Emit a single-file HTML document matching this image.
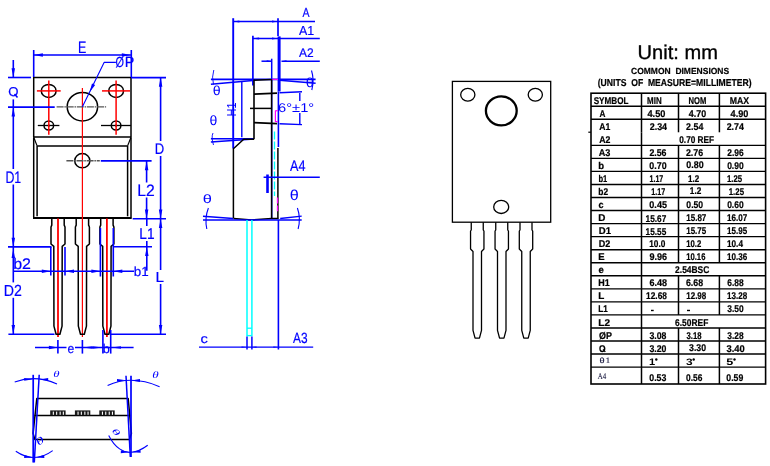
<!DOCTYPE html>
<html><head><meta charset="utf-8"><style>
html,body{margin:0;padding:0;background:#fff;width:770px;height:466px;overflow:hidden}
svg{display:block;will-change:transform} text{text-rendering:geometricPrecision}
</style></head><body>
<svg width="770" height="466" viewBox="0 0 770 466">
<polyline points="33.7,137.5 33.7,77.6 131,77.6 131,137.5" stroke="#000000" stroke-width="1.5" fill="none" stroke-linejoin="round"/>
<line x1="33.7" y1="137.5" x2="33.7" y2="217.5" stroke="#000000" stroke-width="1.5" />
<line x1="131" y1="137.5" x2="131" y2="217.5" stroke="#000000" stroke-width="1.5" />
<line x1="33.7" y1="137.1" x2="131" y2="137.1" stroke="#000000" stroke-width="1.5" />
<line x1="37.1" y1="145.9" x2="127.6" y2="145.9" stroke="#000000" stroke-width="1.5" />
<line x1="33.7" y1="137.3" x2="37.1" y2="145.9" stroke="#000000" stroke-width="1.2" />
<line x1="131" y1="137.3" x2="127.6" y2="145.9" stroke="#000000" stroke-width="1.2" />
<line x1="37.1" y1="145.9" x2="37.1" y2="216.3" stroke="#000000" stroke-width="1.5" />
<line x1="127.6" y1="145.9" x2="127.6" y2="216.3" stroke="#000000" stroke-width="1.5" />
<line x1="33" y1="218" x2="131.7" y2="218" stroke="#000000" stroke-width="2.2" />
<ellipse cx="48.7" cy="90.9" rx="7.4" ry="6.5" stroke="#000000" stroke-width="1.5" fill="none"/>
<ellipse cx="116.1" cy="90.9" rx="7.4" ry="6.5" stroke="#000000" stroke-width="1.5" fill="none"/>
<ellipse cx="48.8" cy="125.6" rx="4.8" ry="4.5" stroke="#000000" stroke-width="1.5" fill="none"/>
<ellipse cx="116.1" cy="125.6" rx="4.8" ry="4.5" stroke="#000000" stroke-width="1.5" fill="none"/>
<circle cx="48.8" cy="125.6" r="1.2" fill="#000"/><circle cx="116.1" cy="125.6" r="1.2" fill="#000"/>
<line x1="37.8" y1="125.5" x2="59.4" y2="125.5" stroke="#000000" stroke-width="1.3" />
<line x1="101" y1="125.5" x2="131" y2="125.5" stroke="#000000" stroke-width="1.3" />
<ellipse cx="82.4" cy="106.7" rx="15.2" ry="14.3" stroke="#000000" stroke-width="1.5" fill="none"/>
<ellipse cx="82.3" cy="160.7" rx="7.6" ry="7.1" stroke="#000000" stroke-width="1.5" fill="none"/>
<line x1="82.4" y1="88.1" x2="82.4" y2="336.9" stroke="#ff0000" stroke-width="1.2" />
<line x1="36.9" y1="90.9" x2="60.7" y2="90.9" stroke="#ff0000" stroke-width="1.5" />
<line x1="48.8" y1="80.6" x2="48.8" y2="134.8" stroke="#ff0000" stroke-width="1.5" />
<line x1="102" y1="90.9" x2="130" y2="90.9" stroke="#ff0000" stroke-width="1.5" />
<line x1="116.1" y1="80.6" x2="116.1" y2="134.8" stroke="#ff0000" stroke-width="1.5" />
<line x1="58.0" y1="218.5" x2="58.0" y2="336.9" stroke="#ff0000" stroke-width="1.8" />
<line x1="106.9" y1="218.5" x2="106.9" y2="336.9" stroke="#ff0000" stroke-width="1.8" />
<line x1="56.6" y1="106.9" x2="106.1" y2="106.9" stroke="#555" stroke-width="1.4" stroke-dasharray="7,0.8,1.5,0.8"/>
<line x1="66.4" y1="160.7" x2="99.8" y2="160.7" stroke="#555" stroke-width="1.4" stroke-dasharray="7,0.8,1.5,0.8"/>
<polyline points="51.8,218 51.8,225.1 51.0,227 51.0,244 53.8,246.3 53.95,326.1 56.1,334.2 59.9,334.2 62.05,326.1 62.2,246.3 65.0,244 65.0,227 64.2,225.1 64.2,218" stroke="#000000" stroke-width="1.5" fill="none" stroke-linejoin="round"/>
<polyline points="76.2,218 76.2,225.1 75.4,227 75.4,244 78.2,246.3 78.35000000000001,326.1 80.5,334.2 84.30000000000001,334.2 86.45,326.1 86.60000000000001,246.3 89.4,244 89.4,227 88.60000000000001,225.1 88.60000000000001,218" stroke="#000000" stroke-width="1.5" fill="none" stroke-linejoin="round"/>
<polyline points="100.7,218 100.7,225.1 99.9,227 99.9,244 102.7,246.3 102.85000000000001,326.1 105.0,334.2 108.80000000000001,334.2 110.95,326.1 111.10000000000001,246.3 113.9,244 113.9,227 113.10000000000001,225.1 113.10000000000001,218" stroke="#000000" stroke-width="1.5" fill="none" stroke-linejoin="round"/>
<line x1="33.7" y1="50" x2="33.7" y2="77" stroke="#0000ff" stroke-width="1.6" />
<line x1="131.3" y1="50" x2="131.3" y2="77" stroke="#0000ff" stroke-width="1.6" />
<line x1="33.7" y1="54.9" x2="131" y2="54.9" stroke="#0000ff" stroke-width="1.5" />
<polygon points="33.9,54.9 42.90,53.15 42.90,56.65" fill="#0000ff"/>
<polygon points="130.8,54.9 121.80,56.65 121.80,53.15" fill="#0000ff"/>
<text transform="translate(78.10,52.80) scale(0.7486,1)" font-family="Liberation Sans" font-size="16.67" font-weight="normal" fill="#0000ff" stroke="#0000ff" stroke-width="0.2">E</text>
<polyline points="82.4,106.7 104.1,62.4 115.9,62.4" stroke="#0000ff" stroke-width="1.1" fill="none" stroke-linejoin="round"/>
<polygon points="89.6,92.3 91.99,83.45 95.13,84.99" fill="#0000ff"/>
<text transform="translate(115.52,67.43) scale(0.7465,1)" font-family="Liberation Sans" font-size="14.63" font-weight="normal" fill="#0000ff" stroke="#0000ff" stroke-width="0.2">Ø</text>
<text transform="translate(124.75,67.40) scale(0.9736,1)" font-family="Liberation Sans" font-size="14.78" font-weight="normal" fill="#0000ff" stroke="#0000ff" stroke-width="0.2">P</text>
<line x1="13.3" y1="60" x2="13.3" y2="77.5" stroke="#0000ff" stroke-width="1.6" />
<polygon points="13.3,77.2 11.55,68.20 15.05,68.20" fill="#0000ff"/>
<line x1="8" y1="77.5" x2="31" y2="77.5" stroke="#0000ff" stroke-width="1.6" />
<text transform="translate(8.21,96.17) scale(1.0251,1)" font-family="Liberation Sans" font-size="12.82" font-weight="normal" fill="#0000ff" stroke="#0000ff" stroke-width="0.2">O</text>
<line x1="14.5" y1="94" x2="17.5" y2="97.5" stroke="#0000ff" stroke-width="1.6" />
<line x1="13.3" y1="99.4" x2="13.3" y2="107" stroke="#0000ff" stroke-width="1.6" />
<line x1="8" y1="107.1" x2="54.7" y2="107.1" stroke="#0000ff" stroke-width="1.7" />
<polygon points="13.3,107.4 15.05,116.40 11.55,116.40" fill="#0000ff"/>
<line x1="13.3" y1="107" x2="13.3" y2="169" stroke="#0000ff" stroke-width="1.6" />
<text transform="translate(5.41,182.70) scale(0.7409,1)" font-family="Liberation Sans" font-size="16.67" font-weight="normal" fill="#0000ff" stroke="#0000ff" stroke-width="0.2">D1</text>
<line x1="13.3" y1="184.5" x2="13.3" y2="282.4" stroke="#0000ff" stroke-width="1.6" />
<polygon points="13.3,246.7 11.55,237.70 15.05,237.70" fill="#0000ff"/>
<line x1="8" y1="246.9" x2="51.5" y2="246.9" stroke="#0000ff" stroke-width="1.6" />
<polygon points="13.3,249 15.05,258.00 11.55,258.00" fill="#0000ff"/>
<text transform="translate(13.16,268.75) scale(1.0487,1)" font-family="Liberation Sans" font-size="15.24" font-weight="normal" fill="#0000ff" stroke="#0000ff" stroke-width="0.2">b2</text>
<text transform="translate(3.87,296.00) scale(0.8843,1)" font-family="Liberation Sans" font-size="16.00" font-weight="normal" fill="#0000ff" stroke="#0000ff" stroke-width="0.2">D2</text>
<line x1="13.3" y1="297.8" x2="13.3" y2="334.3" stroke="#0000ff" stroke-width="1.6" />
<polygon points="13.3,334.1 11.55,325.10 15.05,325.10" fill="#0000ff"/>
<line x1="8.4" y1="334.3" x2="54.5" y2="334.3" stroke="#0000ff" stroke-width="1.6" />
<line x1="111" y1="334.3" x2="166" y2="334.3" stroke="#0000ff" stroke-width="1.6" />
<line x1="50.8" y1="247" x2="50.8" y2="275.5" stroke="#0000ff" stroke-width="1.6" />
<line x1="65" y1="247" x2="65" y2="275.5" stroke="#0000ff" stroke-width="1.6" />
<line x1="100.4" y1="228" x2="100.4" y2="276.5" stroke="#0000ff" stroke-width="1.6" />
<line x1="113.3" y1="228" x2="113.3" y2="276.5" stroke="#0000ff" stroke-width="1.6" />
<line x1="113.7" y1="246.8" x2="152" y2="246.8" stroke="#0000ff" stroke-width="1.6" />
<line x1="13.3" y1="271.2" x2="134" y2="271.2" stroke="#0000ff" stroke-width="1.5" />
<polygon points="50.8,271.2 41.80,272.95 41.80,269.45" fill="#0000ff"/>
<polygon points="65,271.2 74.00,269.45 74.00,272.95" fill="#0000ff"/>
<polygon points="100.4,271.2 91.40,272.95 91.40,269.45" fill="#0000ff"/>
<polygon points="113.3,271.2 122.30,269.45 122.30,272.95" fill="#0000ff"/>
<text transform="translate(133.73,275.57) scale(1.0154,1)" font-family="Liberation Sans" font-size="13.20" font-weight="normal" fill="#0000ff" stroke="#0000ff" stroke-width="0.2">b1</text>
<line x1="100.8" y1="160.9" x2="151.6" y2="160.9" stroke="#0000ff" stroke-width="1.6" />
<line x1="146.6" y1="161" x2="146.6" y2="182.5" stroke="#0000ff" stroke-width="1.6" />
<line x1="146.6" y1="197.5" x2="146.6" y2="218.5" stroke="#0000ff" stroke-width="1.6" />
<polygon points="146.6,161.2 148.35,170.20 144.85,170.20" fill="#0000ff"/>
<polygon points="146.6,218.4 144.85,209.40 148.35,209.40" fill="#0000ff"/>
<text transform="translate(137.24,196.00) scale(0.9483,1)" font-family="Liberation Sans" font-size="16.57" font-weight="normal" fill="#0000ff" stroke="#0000ff" stroke-width="0.2">L2</text>
<line x1="131" y1="77.6" x2="166" y2="77.6" stroke="#0000ff" stroke-width="1.6" />
<line x1="160.6" y1="77.8" x2="160.6" y2="141" stroke="#0000ff" stroke-width="1.6" />
<line x1="160.6" y1="156" x2="160.6" y2="270" stroke="#0000ff" stroke-width="1.6" />
<line x1="160.6" y1="284" x2="160.6" y2="334.3" stroke="#0000ff" stroke-width="1.6" />
<polygon points="160.6,77.8 162.35,86.80 158.85,86.80" fill="#0000ff"/>
<polygon points="160.6,218.4 158.85,209.40 162.35,209.40" fill="#0000ff"/>
<text transform="translate(154.75,153.50) scale(0.8533,1)" font-family="Liberation Sans" font-size="15.36" font-weight="normal" fill="#0000ff" stroke="#0000ff" stroke-width="0.2">D</text>
<line x1="132.7" y1="218.8" x2="166" y2="218.8" stroke="#0000ff" stroke-width="1.6" />
<line x1="146.8" y1="219" x2="146.8" y2="226" stroke="#0000ff" stroke-width="1.6" />
<line x1="146.8" y1="241" x2="146.8" y2="270.7" stroke="#0000ff" stroke-width="1.6" />
<polygon points="146.8,246.9 148.55,255.90 145.05,255.90" fill="#0000ff"/>
<text transform="translate(139.30,239.00) scale(0.8838,1)" font-family="Liberation Sans" font-size="15.51" font-weight="normal" fill="#0000ff" stroke="#0000ff" stroke-width="0.2">L1</text>
<polygon points="160.6,219.1 162.35,228.10 158.85,228.10" fill="#0000ff"/>
<polygon points="160.6,334.1 158.85,325.10 162.35,325.10" fill="#0000ff"/>
<text transform="translate(155.58,281.80) scale(1.0544,1)" font-family="Liberation Sans" font-size="14.49" font-weight="normal" fill="#0000ff" stroke="#0000ff" stroke-width="0.2">L</text>
<line x1="35" y1="347.5" x2="66.5" y2="347.5" stroke="#0000ff" stroke-width="1.5" />
<line x1="75" y1="347.5" x2="133.6" y2="347.5" stroke="#0000ff" stroke-width="1.5" />
<line x1="57.9" y1="340" x2="57.9" y2="353.6" stroke="#0000ff" stroke-width="1.6" />
<line x1="82.4" y1="340" x2="82.4" y2="353.6" stroke="#0000ff" stroke-width="1.6" />
<line x1="102.9" y1="330" x2="102.9" y2="353.6" stroke="#0000ff" stroke-width="1.6" />
<line x1="110.7" y1="330" x2="110.7" y2="353.6" stroke="#0000ff" stroke-width="1.6" />
<polygon points="57.9,347.5 48.90,349.25 48.90,345.75" fill="#0000ff"/>
<polygon points="82.5,347.5 92.50,346.20 92.50,348.80" fill="#0000ff"/>
<polygon points="102.5,347.5 92.50,348.80 92.50,346.20" fill="#0000ff"/>
<polygon points="111,347.5 121.00,346.20 121.00,348.80" fill="#0000ff"/>
<text transform="translate(67.41,352.77) scale(0.9264,1)" font-family="Liberation Sans" font-size="13.09" font-weight="normal" fill="#0000ff" stroke="#0000ff" stroke-width="0.2">e</text>
<text transform="translate(102.78,352.77) scale(1.0011,1)" font-family="Liberation Sans" font-size="12.65" font-weight="normal" fill="#0000ff" stroke="#0000ff" stroke-width="0.2">b</text>
<polygon points="36.8,398.5 128.2,398.5 131.4,433.4 129.4,439.6 34.9,439.6 33.1,433.4" stroke="#000000" stroke-width="1.5" fill="none" stroke-linejoin="round"/>
<line x1="34.4" y1="415.4" x2="130.3" y2="415.4" stroke="#000000" stroke-width="1.5" />
<rect x="50.2" y="410.4" width="15.4" height="5" fill="#1a1a1a"/>
<rect x="52.800000000000004" y="411.6" width="1.1" height="3.2" fill="#fff"/>
<rect x="56.1" y="411.6" width="1.1" height="3.2" fill="#fff"/>
<rect x="59.6" y="411.6" width="1.1" height="3.2" fill="#fff"/>
<rect x="62.800000000000004" y="411.6" width="1.1" height="3.2" fill="#fff"/>
<rect x="74.9" y="410.4" width="15.4" height="5" fill="#1a1a1a"/>
<rect x="77.5" y="411.6" width="1.1" height="3.2" fill="#fff"/>
<rect x="80.80000000000001" y="411.6" width="1.1" height="3.2" fill="#fff"/>
<rect x="84.30000000000001" y="411.6" width="1.1" height="3.2" fill="#fff"/>
<rect x="87.5" y="411.6" width="1.1" height="3.2" fill="#fff"/>
<rect x="99.3" y="410.4" width="15.4" height="5" fill="#1a1a1a"/>
<rect x="101.89999999999999" y="411.6" width="1.1" height="3.2" fill="#fff"/>
<rect x="105.2" y="411.6" width="1.1" height="3.2" fill="#fff"/>
<rect x="108.7" y="411.6" width="1.1" height="3.2" fill="#fff"/>
<rect x="111.89999999999999" y="411.6" width="1.1" height="3.2" fill="#fff"/>
<line x1="33.2" y1="374.8" x2="33.2" y2="462.5" stroke="#0000ff" stroke-width="1.7" />
<line x1="39.2" y1="374.8" x2="34.3" y2="462.5" stroke="#0000ff" stroke-width="1.5" />
<line x1="131" y1="375.8" x2="131" y2="457" stroke="#0000ff" stroke-width="1.7" />
<line x1="126" y1="375.8" x2="130.3" y2="457" stroke="#0000ff" stroke-width="1.5" />
<path d="M14.7,381.9 Q36,374.5 57,384" stroke="#0000ff" stroke-width="1.1" fill="none" />
<polygon points="33.2,379.3 24.20,380.70 24.20,377.90" fill="#0000ff"/>
<polygon points="39.2,379.5 48.20,378.10 48.20,380.90" fill="#0000ff"/>
<path d="M107.6,385.6 Q131,374.5 159.6,386.7" stroke="#0000ff" stroke-width="1.1" fill="none" />
<polygon points="126,380.3 117.00,381.70 117.00,378.90" fill="#0000ff"/>
<polygon points="131,380.5 140.00,379.10 140.00,381.90" fill="#0000ff"/>
<path d="M15.8,451.2 Q34.5,464 52.7,450.6" stroke="#0000ff" stroke-width="1.1" fill="none" />
<polygon points="33.2,457.4 24.11,457.90 24.38,455.11" fill="#0000ff"/>
<polygon points="35.3,457.4 44.12,455.11 44.39,457.90" fill="#0000ff"/>
<path d="M108.7,435.4 C115,448 124,453 131,452.3 C138,451.5 144,448 147.7,445.2" stroke="#0000ff" stroke-width="1.1" fill="none" />
<polygon points="129.8,452.2 120.74,453.15 120.88,450.35" fill="#0000ff"/>
<polygon points="131.6,452.2 140.42,449.91 140.69,452.70" fill="#0000ff"/>
<text transform="translate(53.16,376.81) scale(1.4044,1)" font-family="Liberation Serif" font-size="9.15" font-weight="normal" font-style="italic" fill="#0000ff">θ</text>
<text transform="translate(152.35,378.30) scale(1.3475,1)" font-family="Liberation Serif" font-size="9.72" font-weight="normal" font-style="italic" fill="#0000ff">θ</text>
<text transform="rotate(-40 40 440.8) translate(35.79,444.20) scale(1.6422,1)" font-family="Liberation Serif" font-size="9.86" font-weight="normal" font-style="italic" fill="#0000ff">θ</text>
<text transform="rotate(50 116.4 432.2) translate(112.44,435.12) scale(1.8032,1)" font-family="Liberation Serif" font-size="8.45" font-weight="normal" font-style="italic" fill="#0000ff">θ</text>
<line x1="233.2" y1="18.2" x2="233.2" y2="148.5" stroke="#0000ff" stroke-width="1.9" />
<line x1="278" y1="18.2" x2="278" y2="36" stroke="#0000ff" stroke-width="1.7" />
<line x1="233.2" y1="21.5" x2="315" y2="21.5" stroke="#0000ff" stroke-width="1.5" />
<polygon points="233.4,21.5 239.40,20.50 239.40,22.50" fill="#0000ff"/>
<polygon points="278,21.5 272.00,22.50 272.00,20.50" fill="#0000ff"/>
<text transform="translate(302.40,16.90) scale(0.7981,1)" font-family="Liberation Sans" font-size="13.19" font-weight="normal" fill="#0000ff" stroke="#0000ff" stroke-width="0.2">A</text>
<line x1="252.9" y1="35.7" x2="252.9" y2="85.6" stroke="#0000ff" stroke-width="1.7" />
<line x1="252.9" y1="38.5" x2="319.8" y2="38.5" stroke="#0000ff" stroke-width="1.5" />
<polygon points="253.1,38.5 259.10,37.50 259.10,39.50" fill="#0000ff"/>
<polygon points="278,38.5 272.00,39.50 272.00,37.50" fill="#0000ff"/>
<text transform="translate(299.00,35.00) scale(0.9526,1)" font-family="Liberation Sans" font-size="13.04" font-weight="normal" fill="#0000ff" stroke="#0000ff" stroke-width="0.2">A1</text>
<line x1="279.1" y1="36.4" x2="279.1" y2="91.5" stroke="#0000ff" stroke-width="3.0" />
<line x1="278.4" y1="91.5" x2="278.4" y2="147" stroke="#0000ff" stroke-width="1.6" />
<line x1="278.4" y1="220" x2="278.4" y2="349.5" stroke="#0000ff" stroke-width="1.6" />
<line x1="281.5" y1="61.2" x2="319.8" y2="61.2" stroke="#0000ff" stroke-width="1.5" />
<polygon points="281.5,61.2 286.50,60.30 286.50,62.10" fill="#0000ff"/>
<line x1="261.5" y1="61.2" x2="271.7" y2="61.2" stroke="#0000ff" stroke-width="1.5" />
<polygon points="271.7,61.2 266.70,62.10 266.70,60.30" fill="#0000ff"/>
<line x1="271.7" y1="58.7" x2="271.7" y2="218.6" stroke="#0000ff" stroke-width="1.5" />
<text transform="translate(299.00,56.90) scale(0.9628,1)" font-family="Liberation Sans" font-size="12.43" font-weight="normal" fill="#0000ff" stroke="#0000ff" stroke-width="0.2">A2</text>
<line x1="210.9" y1="79.4" x2="315.6" y2="79.4" stroke="#0000ff" stroke-width="1.6" />
<line x1="210.9" y1="84.3" x2="252.8" y2="80.5" stroke="#0000ff" stroke-width="1.5" />
<line x1="279.5" y1="80.3" x2="315.6" y2="83.3" stroke="#0000ff" stroke-width="1.5" />
<path d="M213.8,70 Q211.5,77 213.5,84.5" stroke="#0000ff" stroke-width="0.9" fill="none" />
<path d="M311.5,70.5 Q314.5,80 311.8,90" stroke="#0000ff" stroke-width="1.1" fill="none" />
<text transform="translate(212.79,95.17) scale(1.0825,1)" font-family="Liberation Sans" font-size="13.20" font-weight="normal" fill="#0000ff">θ</text>
<text transform="translate(305.86,86.87) scale(1.1158,1)" font-family="Liberation Sans" font-size="13.20" font-weight="normal" fill="#0000ff">θ</text>
<line x1="241.8" y1="81" x2="241.8" y2="137.2" stroke="#0000ff" stroke-width="1.4" />
<g transform="translate(235.8,115.6) rotate(-90)">
<text transform="translate(-0.88,0.00) scale(0.8400,1)" font-family="Liberation Sans" font-size="13.04" font-weight="normal" fill="#0000ff">H1</text>
</g>
<text transform="translate(209.60,124.86) scale(1.0338,1)" font-family="Liberation Sans" font-size="13.61" font-weight="normal" fill="#0000ff">θ</text>
<line x1="210.9" y1="138.8" x2="254" y2="138.8" stroke="#0000ff" stroke-width="1.6" />
<line x1="210.9" y1="142" x2="254" y2="139" stroke="#0000ff" stroke-width="1.5" />
<path d="M213,133 Q211,137 213.5,145" stroke="#0000ff" stroke-width="0.9" fill="none" />
<polyline points="254,80.2 271.6,79.6" stroke="#000000" stroke-width="1.5" fill="none" stroke-linejoin="round"/>
<line x1="271.6" y1="79.4" x2="278" y2="79.4" stroke="#ff00ff" stroke-width="1.2" />
<line x1="254" y1="79.5" x2="254" y2="139.2" stroke="#000000" stroke-width="1.6" />
<line x1="254" y1="94.2" x2="277" y2="93.2" stroke="#000000" stroke-width="1.8" />
<line x1="250" y1="108.4" x2="271.6" y2="108.4" stroke="#000000" stroke-width="1.5" />
<line x1="254" y1="122.6" x2="277" y2="123.6" stroke="#000000" stroke-width="1.8" />
<line x1="271.6" y1="79.2" x2="271.6" y2="218.6" stroke="#000000" stroke-width="1.5" />
<polyline points="254,139.2 243.7,139.2 233.4,148.8 233.4,218.6" stroke="#000000" stroke-width="1.5" fill="none" stroke-linejoin="round"/>
<line x1="277.9" y1="148" x2="277.9" y2="218.6" stroke="#000000" stroke-width="1.5" />
<polyline points="233.6,218.6 251.6,220 271.6,218.6 278.6,218.6" stroke="#000000" stroke-width="1.5" fill="none" stroke-linejoin="round"/>
<polyline points="277.8,110.6 275.4,110.8 275.4,121.4 277.8,121.6" stroke="#ff00ff" stroke-width="1.2" fill="none" stroke-linejoin="round"/>
<line x1="277.5" y1="197.4" x2="277.5" y2="211.3" stroke="#ff00ff" stroke-width="1.3" stroke-dasharray="6,2,6"/>
<line x1="274.5" y1="131.5" x2="274.5" y2="196" stroke="#00ffff" stroke-width="1.3" stroke-dasharray="8,2"/>
<line x1="279.5" y1="92.7" x2="302" y2="91.8" stroke="#0000ff" stroke-width="1.4" />
<line x1="279.5" y1="123.8" x2="302" y2="124.6" stroke="#0000ff" stroke-width="1.4" />
<line x1="299.8" y1="93" x2="299.8" y2="101" stroke="#0000ff" stroke-width="1.4" />
<line x1="299.8" y1="113" x2="299.8" y2="124.6" stroke="#0000ff" stroke-width="1.4" />
<text transform="translate(278.07,111.67) scale(1.1582,1)" font-family="Liberation Sans" font-size="12.68" font-weight="normal" fill="#0000ff">6°±1°</text>
<line x1="263.6" y1="177.2" x2="319.8" y2="177.2" stroke="#0000ff" stroke-width="1.5" />
<line x1="267.5" y1="174.5" x2="267.5" y2="193" stroke="#0000ff" stroke-width="2.6" />
<text transform="translate(290.00,170.60) scale(0.8205,1)" font-family="Liberation Sans" font-size="15.36" font-weight="normal" fill="#0000ff" stroke="#0000ff" stroke-width="0.2">A4</text>
<text transform="translate(202.68,203.48) scale(1.3462,1)" font-family="Liberation Sans" font-size="12.24" font-weight="normal" fill="#0000ff">θ</text>
<text transform="translate(289.79,200.46) scale(1.1277,1)" font-family="Liberation Sans" font-size="14.42" font-weight="normal" fill="#0000ff">θ</text>
<line x1="203" y1="220" x2="301.7" y2="220" stroke="#0000ff" stroke-width="1.5" />
<line x1="203" y1="216.3" x2="233.1" y2="218.5" stroke="#0000ff" stroke-width="1.4" />
<line x1="280.2" y1="218.5" x2="301.7" y2="216.1" stroke="#0000ff" stroke-width="1.4" />
<path d="M208.4,208 Q204.5,218 206.8,229" stroke="#0000ff" stroke-width="1.1" fill="none" />
<path d="M297.4,208 Q301,218 298.1,229" stroke="#0000ff" stroke-width="1.1" fill="none" />
<line x1="247" y1="220" x2="247" y2="336.3" stroke="#00ffff" stroke-width="1.5" />
<line x1="251.9" y1="220" x2="251.9" y2="336.3" stroke="#00ffff" stroke-width="1.5" />
<line x1="247" y1="328.2" x2="251.9" y2="328.2" stroke="#00ffff" stroke-width="1.3" />
<line x1="247" y1="335.6" x2="251.9" y2="335.6" stroke="#00ffff" stroke-width="1.3" />
<line x1="247" y1="336.5" x2="247" y2="349.4" stroke="#0000ff" stroke-width="1.5" />
<line x1="251.9" y1="336.5" x2="251.9" y2="349.4" stroke="#0000ff" stroke-width="1.5" />
<line x1="199" y1="347.1" x2="313.2" y2="347.1" stroke="#0000ff" stroke-width="1.4" />
<polygon points="246.5,347.1 241.50,347.80 241.50,346.40" fill="#0000ff"/>
<polygon points="251.6,347.1 256.60,346.40 256.60,347.80" fill="#0000ff"/>
<polygon points="278.3,347.1 273.30,347.80 273.30,346.40" fill="#0000ff"/>
<text transform="translate(200.41,343.37) scale(1.1560,1)" font-family="Liberation Sans" font-size="12.73" font-weight="normal" fill="#0000ff" stroke="#0000ff" stroke-width="0.2">c</text>
<text transform="translate(293.00,343.35) scale(0.8023,1)" font-family="Liberation Sans" font-size="14.79" font-weight="normal" fill="#0000ff" stroke="#0000ff" stroke-width="0.2">A3</text>
<rect x="452.4" y="81.4" width="98.3" height="140.8" fill="none" stroke="#000" stroke-width="1.3"/>
<ellipse cx="467.8" cy="94.75" rx="7.1" ry="6.4" stroke="#000000" stroke-width="1.3" fill="none"/>
<ellipse cx="535.3" cy="94.75" rx="7.1" ry="6.4" stroke="#000000" stroke-width="1.3" fill="none"/>
<ellipse cx="501.3" cy="110.8" rx="15.4" ry="14.5" stroke="#000000" stroke-width="2.3" fill="none"/>
<ellipse cx="501.2" cy="206.9" rx="7.5" ry="6.6" stroke="#000000" stroke-width="1.3" fill="none"/>
<polyline points="471.25,222.3 471.25,230 470.55,231 470.55,249 473.0,251.5 473.0,330.3 475.05,338.2 479.45,338.2 481.5,330.3 481.5,251.5 483.95,249 483.95,231 483.25,230 483.25,222.3" stroke="#000000" stroke-width="1.3" fill="none" stroke-linejoin="round"/>
<polyline points="495.75,222.3 495.75,230 495.05,231 495.05,249 497.5,251.5 497.5,330.3 499.55,338.2 503.95,338.2 506.0,330.3 506.0,251.5 508.45,249 508.45,231 507.75,230 507.75,222.3" stroke="#000000" stroke-width="1.3" fill="none" stroke-linejoin="round"/>
<polyline points="520,222.3 520,230 519.3,231 519.3,249 521.75,251.5 521.75,330.3 523.8,338.2 528.2,338.2 530.25,330.3 530.25,251.5 532.7,249 532.7,231 532,230 532,222.3" stroke="#000000" stroke-width="1.3" fill="none" stroke-linejoin="round"/>
<text transform="translate(637.59,58.60) scale(1.0108,1)" font-family="Liberation Sans" font-size="19.86" font-weight="normal" fill="#000000" stroke="#000000" stroke-width="0.35">Unit: mm</text>
<text transform="translate(631.06,74.31) scale(0.9581,1)" font-family="Liberation Sans" font-size="8.87" font-weight="bold" fill="#000000" stroke="#000000" stroke-width="0.2">COMMON  DIMENSIONS</text>
<text transform="translate(597.67,85.79) scale(0.8578,1)" font-family="Liberation Sans" font-size="10.05" font-weight="bold" fill="#000000" stroke="#000000" stroke-width="0.2">(UNITS  OF  MEASURE=MILLIMETER)</text>
<rect x="591" y="93.2" width="174.60000000000002" height="290.8" fill="none" stroke="#000" stroke-width="1.6"/>
<line x1="591" y1="106.19500000000001" x2="765.6" y2="106.19500000000001" stroke="#000000" stroke-width="1.4" />
<line x1="591" y1="119.24000000000001" x2="765.6" y2="119.24000000000001" stroke="#000000" stroke-width="1.4" />
<line x1="591" y1="145.33" x2="765.6" y2="145.33" stroke="#000000" stroke-width="1.4" />
<line x1="591" y1="158.375" x2="765.6" y2="158.375" stroke="#000000" stroke-width="1.4" />
<line x1="591" y1="171.42000000000002" x2="765.6" y2="171.42000000000002" stroke="#000000" stroke-width="1.4" />
<line x1="591" y1="184.465" x2="765.6" y2="184.465" stroke="#000000" stroke-width="1.4" />
<line x1="591" y1="197.51" x2="765.6" y2="197.51" stroke="#000000" stroke-width="1.4" />
<line x1="591" y1="210.555" x2="765.6" y2="210.555" stroke="#000000" stroke-width="1.4" />
<line x1="591" y1="223.6" x2="765.6" y2="223.6" stroke="#000000" stroke-width="1.4" />
<line x1="591" y1="236.645" x2="765.6" y2="236.645" stroke="#000000" stroke-width="1.4" />
<line x1="591" y1="249.69" x2="765.6" y2="249.69" stroke="#000000" stroke-width="1.4" />
<line x1="591" y1="262.735" x2="765.6" y2="262.735" stroke="#000000" stroke-width="1.4" />
<line x1="591" y1="275.78" x2="765.6" y2="275.78" stroke="#000000" stroke-width="1.4" />
<line x1="591" y1="288.82500000000005" x2="765.6" y2="288.82500000000005" stroke="#000000" stroke-width="1.4" />
<line x1="591" y1="301.87" x2="765.6" y2="301.87" stroke="#000000" stroke-width="1.4" />
<line x1="591" y1="314.91499999999996" x2="765.6" y2="314.91499999999996" stroke="#000000" stroke-width="1.4" />
<line x1="591" y1="327.96000000000004" x2="765.6" y2="327.96000000000004" stroke="#000000" stroke-width="1.4" />
<line x1="591" y1="341.005" x2="765.6" y2="341.005" stroke="#000000" stroke-width="1.4" />
<line x1="591" y1="354.04999999999995" x2="765.6" y2="354.04999999999995" stroke="#000000" stroke-width="1.4" />
<line x1="591" y1="367.095" x2="765.6" y2="367.095" stroke="#000000" stroke-width="1.4" />
<line x1="641.5" y1="93.15" x2="641.5" y2="106.19500000000001" stroke="#000000" stroke-width="1.5" />
<line x1="678.5" y1="93.15" x2="678.5" y2="106.19500000000001" stroke="#000000" stroke-width="1.5" />
<line x1="719.4" y1="93.15" x2="719.4" y2="106.19500000000001" stroke="#000000" stroke-width="1.5" />
<text transform="translate(593.66,103.75) scale(0.8304,1)" font-family="Liberation Sans" font-size="9.80" font-weight="bold" fill="#000000" stroke="#000000" stroke-width="0.22">SYMBOL</text>
<text transform="translate(647.08,103.75) scale(0.8103,1)" font-family="Liberation Sans" font-size="9.80" font-weight="bold" fill="#000000" stroke="#000000" stroke-width="0.22">MIN</text>
<text transform="translate(688.50,103.75) scale(0.7792,1)" font-family="Liberation Sans" font-size="9.80" font-weight="bold" fill="#000000" stroke="#000000" stroke-width="0.22">NOM</text>
<text transform="translate(729.73,103.75) scale(0.8896,1)" font-family="Liberation Sans" font-size="9.80" font-weight="bold" fill="#000000" stroke="#000000" stroke-width="0.22">MAX</text>
<line x1="641.5" y1="106.19500000000001" x2="641.5" y2="119.24000000000001" stroke="#000000" stroke-width="1.5" />
<line x1="678.5" y1="106.19500000000001" x2="678.5" y2="119.24000000000001" stroke="#000000" stroke-width="1.5" />
<line x1="719.4" y1="106.19500000000001" x2="719.4" y2="119.24000000000001" stroke="#000000" stroke-width="1.5" />
<text transform="translate(599.49,116.80) scale(0.8376,1)" font-family="Liberation Sans" font-size="9.80" font-weight="bold" fill="#000000" stroke="#000000" stroke-width="0.22">A</text>
<text transform="translate(647.46,116.80) scale(0.9394,1)" font-family="Liberation Sans" font-size="9.80" font-weight="bold" fill="#000000" stroke="#000000" stroke-width="0.22">4.50</text>
<text transform="translate(688.87,116.80) scale(0.9070,1)" font-family="Liberation Sans" font-size="9.80" font-weight="bold" fill="#000000" stroke="#000000" stroke-width="0.22">4.70</text>
<text transform="translate(730.56,116.80) scale(0.9340,1)" font-family="Liberation Sans" font-size="9.80" font-weight="bold" fill="#000000" stroke="#000000" stroke-width="0.22">4.90</text>
<line x1="641.5" y1="119.24000000000001" x2="641.5" y2="132.285" stroke="#000000" stroke-width="1.5" />
<line x1="678.5" y1="119.24000000000001" x2="678.5" y2="132.285" stroke="#000000" stroke-width="1.5" />
<line x1="719.4" y1="119.24000000000001" x2="719.4" y2="132.285" stroke="#000000" stroke-width="1.5" />
<text transform="translate(599.18,129.84) scale(0.8830,1)" font-family="Liberation Sans" font-size="9.80" font-weight="bold" fill="#000000" stroke="#000000" stroke-width="0.22">A1</text>
<text transform="translate(649.69,129.84) scale(0.9106,1)" font-family="Liberation Sans" font-size="9.80" font-weight="bold" fill="#000000" stroke="#000000" stroke-width="0.22">2.34</text>
<text transform="translate(686.09,129.84) scale(0.9052,1)" font-family="Liberation Sans" font-size="9.80" font-weight="bold" fill="#000000" stroke="#000000" stroke-width="0.22">2.54</text>
<text transform="translate(726.69,129.84) scale(0.8999,1)" font-family="Liberation Sans" font-size="9.80" font-weight="bold" fill="#000000" stroke="#000000" stroke-width="0.22">2.74</text>
<line x1="641.5" y1="132.285" x2="641.5" y2="145.33" stroke="#000000" stroke-width="1.5" />
<text transform="translate(599.18,142.88) scale(0.8939,1)" font-family="Liberation Sans" font-size="9.80" font-weight="bold" fill="#000000" stroke="#000000" stroke-width="0.22">A2</text>
<text transform="translate(679.27,142.88) scale(0.8409,1)" font-family="Liberation Sans" font-size="9.80" font-weight="bold" fill="#000000" stroke="#000000" stroke-width="0.22">0.70 REF</text>
<line x1="641.5" y1="145.33" x2="641.5" y2="158.375" stroke="#000000" stroke-width="1.5" />
<line x1="678.5" y1="145.33" x2="678.5" y2="158.375" stroke="#000000" stroke-width="1.5" />
<line x1="719.4" y1="145.33" x2="719.4" y2="158.375" stroke="#000000" stroke-width="1.5" />
<text transform="translate(598.67,155.93) scale(0.9322,1)" font-family="Liberation Sans" font-size="9.80" font-weight="bold" fill="#000000" stroke="#000000" stroke-width="0.22">A3</text>
<text transform="translate(649.39,155.93) scale(0.8980,1)" font-family="Liberation Sans" font-size="9.80" font-weight="bold" fill="#000000" stroke="#000000" stroke-width="0.22">2.56</text>
<text transform="translate(685.89,155.93) scale(0.9034,1)" font-family="Liberation Sans" font-size="9.80" font-weight="bold" fill="#000000" stroke="#000000" stroke-width="0.22">2.76</text>
<text transform="translate(727.21,155.93) scale(0.8599,1)" font-family="Liberation Sans" font-size="9.80" font-weight="bold" fill="#000000" stroke="#000000" stroke-width="0.22">2.96</text>
<line x1="641.5" y1="158.375" x2="641.5" y2="171.42000000000002" stroke="#000000" stroke-width="1.5" />
<line x1="678.5" y1="158.375" x2="678.5" y2="171.42000000000002" stroke="#000000" stroke-width="1.5" />
<line x1="719.4" y1="158.375" x2="719.4" y2="171.42000000000002" stroke="#000000" stroke-width="1.5" />
<text transform="translate(598.28,168.97) scale(0.9699,1)" font-family="Liberation Sans" font-size="9.80" font-weight="bold" fill="#000000" stroke="#000000" stroke-width="0.22">b</text>
<text transform="translate(649.35,168.97) scale(0.9028,1)" font-family="Liberation Sans" font-size="9.80" font-weight="bold" fill="#000000" stroke="#000000" stroke-width="0.22">0.70</text>
<text transform="translate(686.34,168.38) scale(0.9082,1)" font-family="Liberation Sans" font-size="9.80" font-weight="bold" fill="#000000" stroke="#000000" stroke-width="0.22">0.80</text>
<text transform="translate(727.16,168.97) scale(0.8645,1)" font-family="Liberation Sans" font-size="9.80" font-weight="bold" fill="#000000" stroke="#000000" stroke-width="0.22">0.90</text>
<line x1="641.5" y1="171.42000000000002" x2="641.5" y2="184.465" stroke="#000000" stroke-width="1.5" />
<line x1="678.5" y1="171.42000000000002" x2="678.5" y2="184.465" stroke="#000000" stroke-width="1.5" />
<line x1="719.4" y1="171.42000000000002" x2="719.4" y2="184.465" stroke="#000000" stroke-width="1.5" />
<text transform="translate(598.41,182.02) scale(0.7689,1)" font-family="Liberation Sans" font-size="9.80" font-weight="bold" fill="#000000" stroke="#000000" stroke-width="0.22">b1</text>
<text transform="translate(649.58,182.02) scale(0.7190,1)" font-family="Liberation Sans" font-size="9.80" font-weight="bold" fill="#000000" stroke="#000000" stroke-width="0.22">1.17</text>
<text transform="translate(688.12,182.02) scale(0.8227,1)" font-family="Liberation Sans" font-size="9.80" font-weight="bold" fill="#000000" stroke="#000000" stroke-width="0.22">1.2</text>
<text transform="translate(727.03,182.02) scale(0.7955,1)" font-family="Liberation Sans" font-size="9.80" font-weight="bold" fill="#000000" stroke="#000000" stroke-width="0.22">1.25</text>
<line x1="641.5" y1="184.465" x2="641.5" y2="197.51" stroke="#000000" stroke-width="1.5" />
<line x1="678.5" y1="184.465" x2="678.5" y2="197.51" stroke="#000000" stroke-width="1.5" />
<line x1="719.4" y1="184.465" x2="719.4" y2="197.51" stroke="#000000" stroke-width="1.5" />
<text transform="translate(598.35,195.06) scale(0.8568,1)" font-family="Liberation Sans" font-size="9.80" font-weight="bold" fill="#000000" stroke="#000000" stroke-width="0.22">b2</text>
<text transform="translate(651.37,195.06) scale(0.7300,1)" font-family="Liberation Sans" font-size="9.80" font-weight="bold" fill="#000000" stroke="#000000" stroke-width="0.22">1.17</text>
<text transform="translate(689.81,194.16) scale(0.8385,1)" font-family="Liberation Sans" font-size="9.80" font-weight="bold" fill="#000000" stroke="#000000" stroke-width="0.22">1.2</text>
<text transform="translate(728.73,195.06) scale(0.8010,1)" font-family="Liberation Sans" font-size="9.80" font-weight="bold" fill="#000000" stroke="#000000" stroke-width="0.22">1.25</text>
<line x1="641.5" y1="197.51" x2="641.5" y2="210.555" stroke="#000000" stroke-width="1.5" />
<line x1="678.5" y1="197.51" x2="678.5" y2="210.555" stroke="#000000" stroke-width="1.5" />
<line x1="719.4" y1="197.51" x2="719.4" y2="210.555" stroke="#000000" stroke-width="1.5" />
<text transform="translate(598.54,208.11) scale(0.9257,1)" font-family="Liberation Sans" font-size="9.80" font-weight="bold" fill="#000000" stroke="#000000" stroke-width="0.22">c</text>
<text transform="translate(649.34,208.11) scale(0.9227,1)" font-family="Liberation Sans" font-size="9.80" font-weight="bold" fill="#000000" stroke="#000000" stroke-width="0.22">0.45</text>
<text transform="translate(686.35,208.11) scale(0.8809,1)" font-family="Liberation Sans" font-size="9.80" font-weight="bold" fill="#000000" stroke="#000000" stroke-width="0.22">0.50</text>
<text transform="translate(727.16,208.11) scale(0.8645,1)" font-family="Liberation Sans" font-size="9.80" font-weight="bold" fill="#000000" stroke="#000000" stroke-width="0.22">0.60</text>
<line x1="641.5" y1="210.555" x2="641.5" y2="223.6" stroke="#000000" stroke-width="1.5" />
<line x1="678.5" y1="210.555" x2="678.5" y2="223.6" stroke="#000000" stroke-width="1.5" />
<line x1="719.4" y1="210.555" x2="719.4" y2="223.6" stroke="#000000" stroke-width="1.5" />
<text transform="translate(598.26,221.16) scale(1.0121,1)" font-family="Liberation Sans" font-size="9.80" font-weight="bold" fill="#000000" stroke="#000000" stroke-width="0.22">D</text>
<text transform="translate(645.60,222.16) scale(0.8461,1)" font-family="Liberation Sans" font-size="9.80" font-weight="bold" fill="#000000" stroke="#000000" stroke-width="0.22">15.67</text>
<text transform="translate(686.22,221.16) scale(0.8206,1)" font-family="Liberation Sans" font-size="9.80" font-weight="bold" fill="#000000" stroke="#000000" stroke-width="0.22">15.87</text>
<text transform="translate(727.01,221.16) scale(0.8248,1)" font-family="Liberation Sans" font-size="9.80" font-weight="bold" fill="#000000" stroke="#000000" stroke-width="0.22">16.07</text>
<line x1="641.5" y1="223.6" x2="641.5" y2="236.645" stroke="#000000" stroke-width="1.5" />
<line x1="678.5" y1="223.6" x2="678.5" y2="236.645" stroke="#000000" stroke-width="1.5" />
<line x1="719.4" y1="223.6" x2="719.4" y2="236.645" stroke="#000000" stroke-width="1.5" />
<text transform="translate(598.77,234.20) scale(0.9817,1)" font-family="Liberation Sans" font-size="9.80" font-weight="bold" fill="#000000" stroke="#000000" stroke-width="0.22">D1</text>
<text transform="translate(645.61,235.20) scale(0.8408,1)" font-family="Liberation Sans" font-size="9.80" font-weight="bold" fill="#000000" stroke="#000000" stroke-width="0.22">15.55</text>
<text transform="translate(686.22,234.20) scale(0.8155,1)" font-family="Liberation Sans" font-size="9.80" font-weight="bold" fill="#000000" stroke="#000000" stroke-width="0.22">15.75</text>
<text transform="translate(727.02,234.20) scale(0.8197,1)" font-family="Liberation Sans" font-size="9.80" font-weight="bold" fill="#000000" stroke="#000000" stroke-width="0.22">15.95</text>
<line x1="641.5" y1="236.645" x2="641.5" y2="249.69" stroke="#000000" stroke-width="1.5" />
<line x1="678.5" y1="236.645" x2="678.5" y2="249.69" stroke="#000000" stroke-width="1.5" />
<line x1="719.4" y1="236.645" x2="719.4" y2="249.69" stroke="#000000" stroke-width="1.5" />
<text transform="translate(598.81,247.25) scale(0.9245,1)" font-family="Liberation Sans" font-size="9.80" font-weight="bold" fill="#000000" stroke="#000000" stroke-width="0.22">D2</text>
<text transform="translate(649.20,247.25) scale(0.8462,1)" font-family="Liberation Sans" font-size="9.80" font-weight="bold" fill="#000000" stroke="#000000" stroke-width="0.22">10.0</text>
<text transform="translate(686.24,247.25) scale(0.7854,1)" font-family="Liberation Sans" font-size="9.80" font-weight="bold" fill="#000000" stroke="#000000" stroke-width="0.22">10.2</text>
<text transform="translate(727.01,247.25) scale(0.8359,1)" font-family="Liberation Sans" font-size="9.80" font-weight="bold" fill="#000000" stroke="#000000" stroke-width="0.22">10.4</text>
<line x1="641.5" y1="249.69" x2="641.5" y2="262.735" stroke="#000000" stroke-width="1.5" />
<line x1="678.5" y1="249.69" x2="678.5" y2="262.735" stroke="#000000" stroke-width="1.5" />
<line x1="719.4" y1="249.69" x2="719.4" y2="262.735" stroke="#000000" stroke-width="1.5" />
<text transform="translate(598.28,260.29) scale(0.9753,1)" font-family="Liberation Sans" font-size="9.80" font-weight="bold" fill="#000000" stroke="#000000" stroke-width="0.22">E</text>
<text transform="translate(649.38,260.29) scale(0.9252,1)" font-family="Liberation Sans" font-size="9.80" font-weight="bold" fill="#000000" stroke="#000000" stroke-width="0.22">9.96</text>
<text transform="translate(686.24,260.29) scale(0.7807,1)" font-family="Liberation Sans" font-size="9.80" font-weight="bold" fill="#000000" stroke="#000000" stroke-width="0.22">10.16</text>
<text transform="translate(727.02,260.29) scale(0.8231,1)" font-family="Liberation Sans" font-size="9.80" font-weight="bold" fill="#000000" stroke="#000000" stroke-width="0.22">10.36</text>
<line x1="641.5" y1="262.735" x2="641.5" y2="275.78" stroke="#000000" stroke-width="1.5" />
<text transform="translate(598.52,273.34) scale(0.9779,1)" font-family="Liberation Sans" font-size="9.80" font-weight="bold" fill="#000000" stroke="#000000" stroke-width="0.22">e</text>
<text transform="translate(675.10,273.34) scale(0.8608,1)" font-family="Liberation Sans" font-size="9.80" font-weight="bold" fill="#000000" stroke="#000000" stroke-width="0.22">2.54BSC</text>
<line x1="641.5" y1="275.78" x2="641.5" y2="288.82500000000005" stroke="#000000" stroke-width="1.5" />
<line x1="678.5" y1="275.78" x2="678.5" y2="288.82500000000005" stroke="#000000" stroke-width="1.5" />
<line x1="719.4" y1="275.78" x2="719.4" y2="288.82500000000005" stroke="#000000" stroke-width="1.5" />
<text transform="translate(598.32,286.38) scale(0.9128,1)" font-family="Liberation Sans" font-size="9.80" font-weight="bold" fill="#000000" stroke="#000000" stroke-width="0.22">H1</text>
<text transform="translate(649.38,286.38) scale(0.9227,1)" font-family="Liberation Sans" font-size="9.80" font-weight="bold" fill="#000000" stroke="#000000" stroke-width="0.22">6.48</text>
<text transform="translate(685.89,286.38) scale(0.9010,1)" font-family="Liberation Sans" font-size="9.80" font-weight="bold" fill="#000000" stroke="#000000" stroke-width="0.22">6.68</text>
<text transform="translate(727.21,286.38) scale(0.8576,1)" font-family="Liberation Sans" font-size="9.80" font-weight="bold" fill="#000000" stroke="#000000" stroke-width="0.22">6.88</text>
<line x1="641.5" y1="288.82500000000005" x2="641.5" y2="301.87" stroke="#000000" stroke-width="1.5" />
<line x1="678.5" y1="288.82500000000005" x2="678.5" y2="301.87" stroke="#000000" stroke-width="1.5" />
<line x1="719.4" y1="288.82500000000005" x2="719.4" y2="301.87" stroke="#000000" stroke-width="1.5" />
<text transform="translate(598.26,299.43) scale(1.0105,1)" font-family="Liberation Sans" font-size="9.80" font-weight="bold" fill="#000000" stroke="#000000" stroke-width="0.22">L</text>
<text transform="translate(646.10,299.43) scale(0.8510,1)" font-family="Liberation Sans" font-size="9.80" font-weight="bold" fill="#000000" stroke="#000000" stroke-width="0.22">12.68</text>
<text transform="translate(686.22,299.43) scale(0.8172,1)" font-family="Liberation Sans" font-size="9.80" font-weight="bold" fill="#000000" stroke="#000000" stroke-width="0.22">12.98</text>
<text transform="translate(727.02,299.43) scale(0.8214,1)" font-family="Liberation Sans" font-size="9.80" font-weight="bold" fill="#000000" stroke="#000000" stroke-width="0.22">13.28</text>
<line x1="641.5" y1="301.87" x2="641.5" y2="314.91499999999996" stroke="#000000" stroke-width="1.5" />
<line x1="678.5" y1="301.87" x2="678.5" y2="314.91499999999996" stroke="#000000" stroke-width="1.5" />
<line x1="719.4" y1="301.87" x2="719.4" y2="314.91499999999996" stroke="#000000" stroke-width="1.5" />
<text transform="translate(598.37,312.47) scale(0.8353,1)" font-family="Liberation Sans" font-size="9.80" font-weight="bold" fill="#000000" stroke="#000000" stroke-width="0.22">L1</text>
<line x1="651" y1="310.47" x2="653.7" y2="310.47" stroke="#000000" stroke-width="1.4" />
<line x1="687" y1="310.47" x2="690" y2="310.47" stroke="#000000" stroke-width="1.4" />
<text transform="translate(727.29,312.47) scale(0.8576,1)" font-family="Liberation Sans" font-size="9.80" font-weight="bold" fill="#000000" stroke="#000000" stroke-width="0.22">3.50</text>
<line x1="641.5" y1="314.91499999999996" x2="641.5" y2="327.96000000000004" stroke="#000000" stroke-width="1.5" />
<text transform="translate(598.24,325.51) scale(1.0300,1)" font-family="Liberation Sans" font-size="9.80" font-weight="bold" fill="#000000" stroke="#000000" stroke-width="0.22">L2</text>
<text transform="translate(675.11,325.51) scale(0.8585,1)" font-family="Liberation Sans" font-size="9.80" font-weight="bold" fill="#000000" stroke="#000000" stroke-width="0.22">6.50REF</text>
<line x1="641.5" y1="327.96000000000004" x2="641.5" y2="341.005" stroke="#000000" stroke-width="1.5" />
<line x1="678.5" y1="327.96000000000004" x2="678.5" y2="341.005" stroke="#000000" stroke-width="1.5" />
<line x1="719.4" y1="327.96000000000004" x2="719.4" y2="341.005" stroke="#000000" stroke-width="1.5" />
<text transform="translate(599.04,338.56) scale(0.9128,1)" font-family="Liberation Sans" font-size="9.80" font-weight="bold" fill="#000000" stroke="#000000" stroke-width="0.22">ØP</text>
<text transform="translate(649.48,338.56) scale(0.8908,1)" font-family="Liberation Sans" font-size="9.80" font-weight="bold" fill="#000000" stroke="#000000" stroke-width="0.22">3.08</text>
<text transform="translate(686.51,338.56) scale(0.7883,1)" font-family="Liberation Sans" font-size="9.80" font-weight="bold" fill="#000000" stroke="#000000" stroke-width="0.22">3.18</text>
<text transform="translate(727.29,338.56) scale(0.8530,1)" font-family="Liberation Sans" font-size="9.80" font-weight="bold" fill="#000000" stroke="#000000" stroke-width="0.22">3.28</text>
<line x1="641.5" y1="341.005" x2="641.5" y2="354.04999999999995" stroke="#000000" stroke-width="1.5" />
<line x1="678.5" y1="341.005" x2="678.5" y2="354.04999999999995" stroke="#000000" stroke-width="1.5" />
<line x1="719.4" y1="341.005" x2="719.4" y2="354.04999999999995" stroke="#000000" stroke-width="1.5" />
<text transform="translate(599.06,351.61) scale(0.8662,1)" font-family="Liberation Sans" font-size="9.80" font-weight="bold" fill="#000000" stroke="#000000" stroke-width="0.22">O</text>
<line x1="603.0999999999999" y1="349.40500000000003" x2="605.3" y2="351.90500000000003" stroke="#000000" stroke-width="1.4" />
<text transform="translate(649.38,351.61) scale(0.8901,1)" font-family="Liberation Sans" font-size="9.80" font-weight="bold" fill="#000000" stroke="#000000" stroke-width="0.22">3.20</text>
<text transform="translate(689.08,350.91) scale(0.8901,1)" font-family="Liberation Sans" font-size="9.80" font-weight="bold" fill="#000000" stroke="#000000" stroke-width="0.22">3.30</text>
<text transform="translate(726.47,351.61) scale(0.9553,1)" font-family="Liberation Sans" font-size="9.80" font-weight="bold" fill="#000000" stroke="#000000" stroke-width="0.22">3.40</text>
<line x1="641.5" y1="354.04999999999995" x2="641.5" y2="367.095" stroke="#000000" stroke-width="1.5" />
<line x1="678.5" y1="354.04999999999995" x2="678.5" y2="367.095" stroke="#000000" stroke-width="1.5" />
<line x1="719.4" y1="354.04999999999995" x2="719.4" y2="367.095" stroke="#000000" stroke-width="1.5" />
<text transform="translate(599.43,362.92) scale(1.3571,1)" font-family="Liberation Serif" font-size="7.75" font-weight="normal" fill="#1a1a40" stroke="#1a1a40" stroke-width="0.15">θ</text>
<text transform="translate(605.66,363.00) scale(1.0479,1)" font-family="Liberation Serif" font-size="8.33" font-weight="normal" fill="#1a1a40" stroke="#1a1a40" stroke-width="0.15">1</text>
<text transform="translate(648.94,364.65) scale(1.1567,1)" font-family="Liberation Sans" font-size="9.57" font-weight="bold" fill="#000000">1</text>
<circle cx="656.3" cy="359.54999999999995" r="1.2" fill="#000"/>
<text transform="translate(686.00,364.56) scale(1.2822,1)" font-family="Liberation Sans" font-size="9.30" font-weight="bold" fill="#000000">3</text>
<circle cx="693.7" cy="359.54999999999995" r="1.2" fill="#000"/>
<text transform="translate(726.32,364.56) scale(1.3364,1)" font-family="Liberation Sans" font-size="9.43" font-weight="bold" fill="#000000">5</text>
<circle cx="734.5" cy="359.54999999999995" r="1.2" fill="#000"/>
<line x1="641.5" y1="367.095" x2="641.5" y2="384" stroke="#000000" stroke-width="1.5" />
<line x1="678.5" y1="367.095" x2="678.5" y2="384" stroke="#000000" stroke-width="1.5" />
<line x1="719.4" y1="367.095" x2="719.4" y2="384" stroke="#000000" stroke-width="1.5" />
<text transform="translate(597.73,378.80) scale(0.7808,1)" font-family="Liberation Serif" font-size="8.79" font-weight="normal" fill="#1a1a40" stroke="#1a1a40" stroke-width="0.15">A4</text>
<text transform="translate(649.25,380.90) scale(0.8949,1)" font-family="Liberation Sans" font-size="9.80" font-weight="bold" fill="#000000" stroke="#000000" stroke-width="0.22">0.53</text>
<text transform="translate(685.96,380.90) scale(0.8567,1)" font-family="Liberation Sans" font-size="9.80" font-weight="bold" fill="#000000" stroke="#000000" stroke-width="0.22">0.56</text>
<text transform="translate(726.35,380.90) scale(0.8894,1)" font-family="Liberation Sans" font-size="9.80" font-weight="bold" fill="#000000" stroke="#000000" stroke-width="0.22">0.59</text>
<line x1="588.3" y1="132.2" x2="591" y2="132.2" stroke="#000000" stroke-width="1.2" />
</svg>
</body></html>
